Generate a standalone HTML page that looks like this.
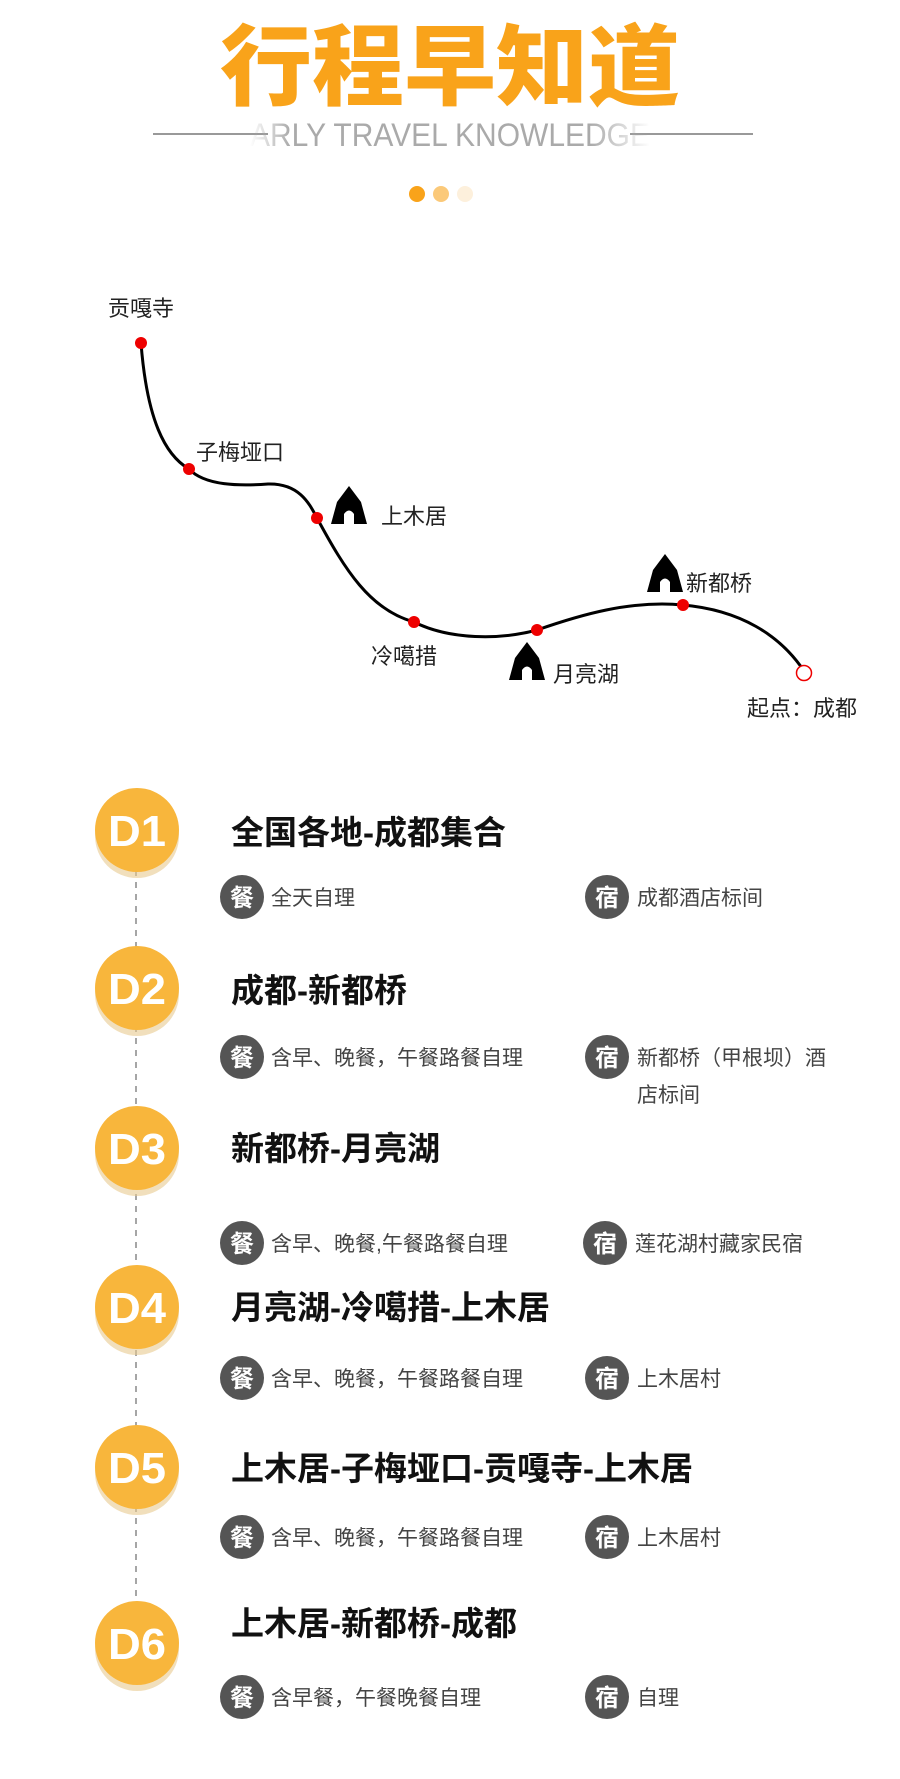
<!DOCTYPE html>
<html><head><meta charset="utf-8"><style>
html,body{margin:0;padding:0;background:#fff;}
svg{display:block;}
text{font-family:"Liberation Sans","Noto Sans CJK SC",sans-serif;}
</style></head><body>
<svg width="900" height="1779" viewBox="0 0 900 1779" xmlns="http://www.w3.org/2000/svg">
<defs>
<linearGradient id="fade" x1="0" x2="1">
<stop offset="0" stop-color="#aaa" stop-opacity="0"/><stop offset="0.1" stop-color="#aaa"/><stop offset="0.85" stop-color="#aaa"/><stop offset="1" stop-color="#aaa" stop-opacity="0"/>
</linearGradient>
</defs>
<!-- title -->
<text x="450" y="98" text-anchor="middle" font-size="88" font-weight="900" fill="#f9a31a" textLength="460" lengthAdjust="spacingAndGlyphs">行程早知道</text>
<line x1="153" y1="134" x2="268" y2="134" stroke="#999" stroke-width="2"/>
<line x1="630" y1="134" x2="753" y2="134" stroke="#999" stroke-width="2"/>
<text x="450" y="146" text-anchor="middle" font-size="32" fill="url(#fade)" textLength="400" lengthAdjust="spacingAndGlyphs">ARLY TRAVEL KNOWLEDGE</text>
<circle cx="417" cy="194" r="8" fill="#f9a31a"/>
<circle cx="441" cy="194" r="8" fill="#fbc979"/>
<circle cx="465" cy="194" r="8" fill="#fdf0dc"/>

<!-- route -->
<path d="M141 343 C147 420 165 455 189 469 C205 486 240 486 268 484 C300 483 310 505 317 518 C345 570 370 610 414 622 C450 640 500 640 537 630 C580 615 630 600 683 605 C740 610 780 635 804 671" fill="none" stroke="#000" stroke-width="3"/>
<g fill="#e00">
<circle cx="141" cy="343" r="6"/><circle cx="189" cy="469" r="6"/><circle cx="317" cy="518" r="6"/>
<circle cx="414" cy="622" r="6"/><circle cx="537" cy="630" r="6"/><circle cx="683" cy="605" r="6"/>
</g>
<circle cx="804" cy="673" r="7.5" fill="#fff" stroke="#e00" stroke-width="1.5"/>
<g fill="#000">
<path d="M331 524 L337 502 L349 486 L361 502 L367 524 Z M344 524 L344 514 Q349 507 354 514 L354 524 Z" fill-rule="evenodd"/>
<path d="M647 592 L653 570 L665 554 L677 570 L683 592 Z M660 592 L660 582 Q665 575 670 582 L670 592 Z" fill-rule="evenodd"/>
<path d="M509 680 L515 658 L527 642 L539 658 L545 680 Z M522 680 L522 670 Q527 663 532 670 L532 680 Z" fill-rule="evenodd"/>
</g>
<g font-size="22" fill="#222">
<text x="108" y="316">贡嘎寺</text>
<text x="196" y="460">子梅垭口</text>
<text x="381" y="524">上木居</text>
<text x="686" y="591">新都桥</text>
<text x="371" y="664">冷噶措</text>
<text x="553" y="682">月亮湖</text>
<text x="747" y="716">起点：成都</text>
</g>

<!-- timeline -->
<line x1="136" y1="870" x2="136" y2="1610" stroke="#888" stroke-width="1.5" stroke-dasharray="6 6"/>
<g font-size="44" font-weight="bold" fill="#fff" text-anchor="middle">
<g transform="translate(137,830)"><circle cy="6" r="42" fill="#e8c98f" opacity="0.6"/><circle r="42" fill="#f8b63c"/><text y="16" textLength="58" lengthAdjust="spacingAndGlyphs">D1</text></g>
<g transform="translate(137,988)"><circle cy="6" r="42" fill="#e8c98f" opacity="0.6"/><circle r="42" fill="#f8b63c"/><text y="16" textLength="58" lengthAdjust="spacingAndGlyphs">D2</text></g>
<g transform="translate(137,1148)"><circle cy="6" r="42" fill="#e8c98f" opacity="0.6"/><circle r="42" fill="#f8b63c"/><text y="16" textLength="58" lengthAdjust="spacingAndGlyphs">D3</text></g>
<g transform="translate(137,1307)"><circle cy="6" r="42" fill="#e8c98f" opacity="0.6"/><circle r="42" fill="#f8b63c"/><text y="16" textLength="58" lengthAdjust="spacingAndGlyphs">D4</text></g>
<g transform="translate(137,1467)"><circle cy="6" r="42" fill="#e8c98f" opacity="0.6"/><circle r="42" fill="#f8b63c"/><text y="16" textLength="58" lengthAdjust="spacingAndGlyphs">D5</text></g>
<g transform="translate(137,1643)"><circle cy="6" r="42" fill="#e8c98f" opacity="0.6"/><circle r="42" fill="#f8b63c"/><text y="16" textLength="58" lengthAdjust="spacingAndGlyphs">D6</text></g>
</g>
<g font-size="33" font-weight="bold" fill="#111">
<text x="231" y="844">全国各地-成都集合</text>
<text x="231" y="1002">成都-新都桥</text>
<text x="231" y="1160">新都桥-月亮湖</text>
<text x="231" y="1319">月亮湖-冷噶措-上木居</text>
<text x="231" y="1480">上木居-子梅垭口-贡嘎寺-上木居</text>
<text x="231" y="1635">上木居-新都桥-成都</text>
</g>
<g font-size="24" font-weight="bold" fill="#fff" text-anchor="middle">
<circle cx="242" cy="897" r="22" fill="#555"/><text x="242" y="906">餐</text>
<circle cx="607" cy="897" r="22" fill="#555"/><text x="607" y="906">宿</text>
<circle cx="242" cy="1057" r="22" fill="#555"/><text x="242" y="1066">餐</text>
<circle cx="607" cy="1057" r="22" fill="#555"/><text x="607" y="1066">宿</text>
<circle cx="242" cy="1243" r="22" fill="#555"/><text x="242" y="1252">餐</text>
<circle cx="605" cy="1243" r="22" fill="#555"/><text x="605" y="1252">宿</text>
<circle cx="242" cy="1378" r="22" fill="#555"/><text x="242" y="1387">餐</text>
<circle cx="607" cy="1378" r="22" fill="#555"/><text x="607" y="1387">宿</text>
<circle cx="242" cy="1537" r="22" fill="#555"/><text x="242" y="1546">餐</text>
<circle cx="607" cy="1537" r="22" fill="#555"/><text x="607" y="1546">宿</text>
<circle cx="242" cy="1697" r="22" fill="#555"/><text x="242" y="1706">餐</text>
<circle cx="607" cy="1697" r="22" fill="#555"/><text x="607" y="1706">宿</text>
</g>
<g font-size="21" fill="#444">
<text x="271" y="905">全天自理</text><text x="637" y="905">成都酒店标间</text>
<text x="271" y="1065">含早、晚餐，午餐路餐自理</text><text x="637" y="1065">新都桥（甲根坝）酒</text><text x="637" y="1102">店标间</text>
<text x="271" y="1251">含早、晚餐,午餐路餐自理</text><text x="635" y="1251">莲花湖村藏家民宿</text>
<text x="271" y="1386">含早、晚餐，午餐路餐自理</text><text x="637" y="1386">上木居村</text>
<text x="271" y="1545">含早、晚餐，午餐路餐自理</text><text x="637" y="1545">上木居村</text>
<text x="271" y="1705">含早餐，午餐晚餐自理</text><text x="637" y="1705">自理</text>
</g>
</svg>
</body></html>
